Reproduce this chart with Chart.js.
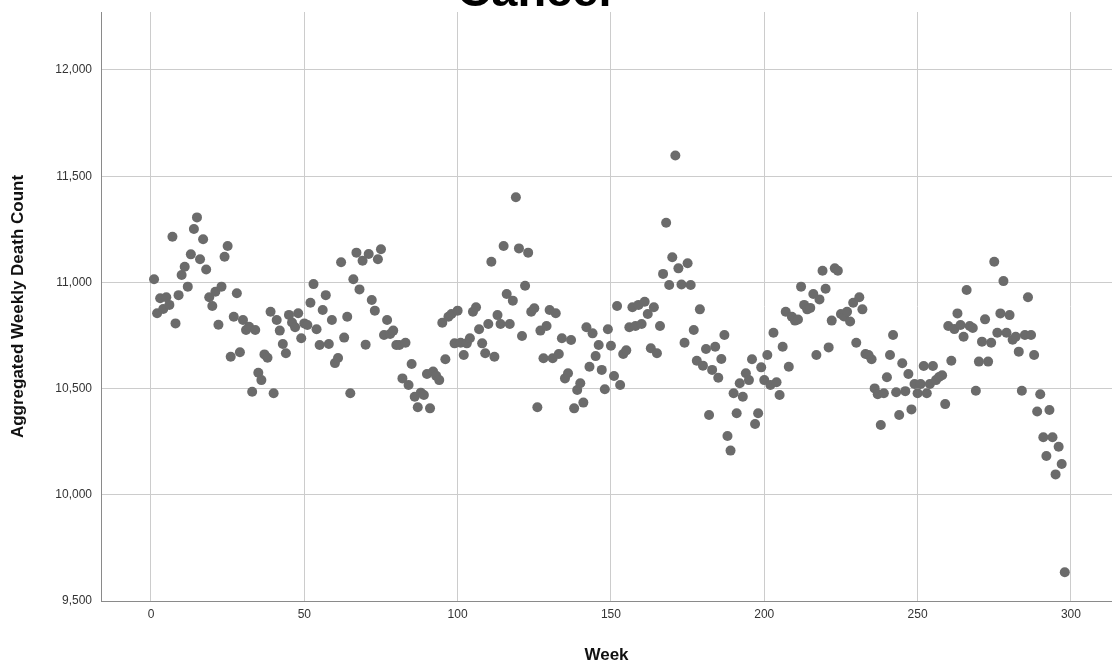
<!DOCTYPE html>
<html>
<head>
<meta charset="utf-8">
<script src="https://cdn.jsdelivr.net/npm/chart.js@4.4.1/dist/chart.umd.min.js"></script>
<style>
  html, body { margin: 0; padding: 0; background: #fff; }
  #wrap { width: 1112px; height: 666px; }
</style>
</head>
<body>
<div id="wrap"><canvas id="scatterChart" width="1112" height="666"></canvas></div>
<script>
const chartTitle = "Cancer";
const xTitle = "Week";
const yTitle = "Aggregated Weekly Death Count";

// weekly values, week 1 .. 298
const deathCounts = [
  11015, 10855, 10925, 10875, 10930, 10894, 11215, 10807, 10940, 11035,
  11074, 10980, 11132, 11251, 11306, 11109, 11203, 11061, 10930, 10889,
  10956, 10801, 10980, 11121, 11171, 10650, 10838, 10949, 10671, 10823,
  10776, 10791, 10485, 10776, 10575, 10540, 10661, 10645, 10862, 10478,
  10823, 10773, 10710, 10666, 10847, 10811, 10789, 10855, 10737, 10807,
  10799, 10904, 10992, 10779, 10705, 10870, 10940, 10710, 10823, 10620,
  10644, 11095, 10740, 10838, 10478, 11015, 11140, 10967, 11102, 10707,
  11134, 10917, 10867, 11109, 11156, 10752, 10823, 10757, 10773, 10705,
  10705, 10548, 10716, 10517, 10616, 10462, 10412, 10481, 10470, 10569,
  10407, 10580, 10560, 10540, 10810, 10638, 10838, 10851, 10713, 10867,
  10716, 10658, 10713, 10737, 10862, 10883, 10779, 10713, 10666, 10804,
  11097, 10650, 10846, 10804, 11171, 10945, 10804, 10914, 11401, 11160,
  10748, 10984, 11140, 10862, 10878, 10412, 10773, 10643, 10795, 10870,
  10643, 10855, 10663, 10737, 10548, 10572, 10729, 10407, 10493, 10525,
  10434, 10789, 10603, 10760, 10653, 10705, 10588, 10497, 10779, 10702,
  10559, 10889, 10517, 10663, 10680, 10789, 10883, 10795, 10894, 10804,
  10909, 10851, 10690, 10883, 10666, 10795, 11040, 11281, 10988, 11118,
  11597, 11066, 10990, 10716, 11090, 10988, 10776, 10631, 10873, 10608,
  10686, 10376, 10588, 10697, 10551, 10639, 10752, 10277, 10208, 10478,
  10384, 10525, 10462, 10572, 10540, 10638, 10333, 10384, 10600, 10540,
  10658, 10517, 10763, 10530, 10470, 10697, 10862, 10603, 10838, 10820,
  10825, 10980, 10894, 10873, 10880, 10945, 10658, 10920, 11055, 10970,
  10694, 10820, 11066, 11055, 10851, 10840, 10862, 10816, 10904, 10716,
  10930, 10873, 10663, 10658, 10638, 10501, 10473, 10329, 10478, 10553,
  10658, 10752, 10483, 10376, 10619, 10488, 10569, 10402, 10522, 10478,
  10522, 10606, 10478, 10522, 10606, 10540, 10555, 10563, 10427, 10795,
  10631, 10780, 10854, 10799, 10744, 10964, 10795, 10785, 10490, 10627,
  10721, 10826, 10627, 10716, 11097, 10763, 10854, 11006, 10763, 10846,
  10730, 10744, 10674, 10490, 10752, 10930, 10752, 10658, 10392, 10473,
  10271, 10183, 10399, 10271, 10096, 10226, 10145, 9635
];
const weeks = deathCounts.map((_, i) => i + 1);

const xTicks = [0, 50, 100, 150, 200, 250, 300];
const yTicks = [9500, 10000, 10500, 11000, 11500, 12000];

const FONT = "'Liberation Sans', Arial, sans-serif";

// SPSS puts the title way up top, it's cut off in the picture
const topTitle = {
  id: "topTitle",
  afterDraw(chart) {
    const ctx = chart.ctx;
    ctx.save();
    ctx.font = "bold 47px " + FONT;
    ctx.fillStyle = "#000";
    ctx.textAlign = "center";
    ctx.textBaseline = "alphabetic";
    ctx.fillText(chartTitle, 537, 6);
    ctx.restore();
  },
};

const ctx = document.getElementById("scatterChart").getContext("2d");
const scatterChart = new Chart(ctx, {
  type: "scatter",
  data: {
    datasets: [
      {
        data: weeks.map((w, i) => ({ x: w, y: deathCounts[i] })),
        backgroundColor: "#6b6b6b",
        borderColor: "#6b6b6b",
        borderWidth: 0,
        pointRadius: 5,
      },
    ],
  },
  options: {
    responsive: false,
    devicePixelRatio: 1,
    animation: false,
    // plot runs off the right edge in the original, so no auto padding for points
    layout: { autoPadding: false, padding: { top: 12, right: 0, left: 0, bottom: 0 } },
    plugins: {
      legend: { display: false },
      tooltip: { enabled: false },
    },
    scales: {
      x: {
        type: "linear",
        min: -16.3,
        max: 313.4,
        afterBuildTicks: (scale) => {
          scale.ticks = xTicks.map((v) => ({ value: v }));
        },
        afterFit: (scale) => {
          scale.height = 65;
          scale.paddingLeft = 0;
          scale.paddingRight = 0;
        },
        grid: { color: "#cccccc", lineWidth: 1, drawTicks: false },
        border: { color: "#8a8a8a", width: 1 },
        ticks: {
          padding: 6,
          color: "#333",
          font: { family: FONT, size: 12 },
          maxRotation: 0,
        },
        title: {
          display: true,
          text: xTitle,
          color: "#111",
          font: { family: FONT, size: 17, weight: "bold" },
          padding: { top: 0, bottom: 0 },
        },
      },
      y: {
        min: 9500,
        max: 12273,
        afterBuildTicks: (scale) => {
          scale.ticks = yTicks.map((v) => ({ value: v }));
        },
        afterFit: (scale) => {
          scale.width = 101;
          scale.paddingTop = 0;
          scale.paddingBottom = 0;
        },
        grid: { color: "#cccccc", lineWidth: 1, drawTicks: false },
        border: { color: "#8a8a8a", width: 1 },
        ticks: {
          padding: 9,
          color: "#333",
          font: { family: FONT, size: 12 },
          callback: (v) => v.toLocaleString("en-US"),
        },
        title: {
          display: true,
          text: yTitle,
          color: "#111",
          font: { family: FONT, size: 17, weight: "bold" },
          padding: { top: 8, bottom: 0 },
        },
      },
    },
  },
  plugins: [topTitle],
});
</script>
</body>
</html>
